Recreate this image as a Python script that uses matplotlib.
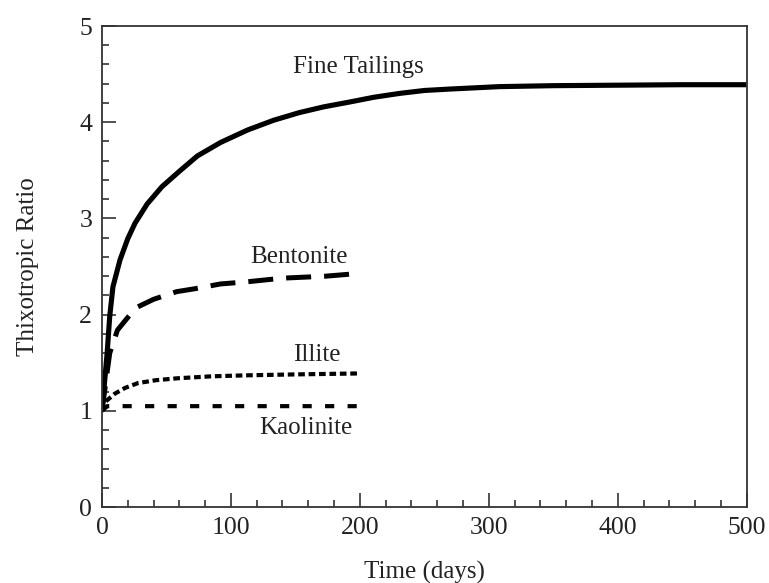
import matplotlib.pyplot as plt
from matplotlib.ticker import MultipleLocator

# ----- data -----
fine_x = [0, 2, 4, 6, 8.5, 14, 20, 25.6, 35, 46.5, 60, 74, 92, 113, 133, 153, 172, 192, 211, 231, 250, 270, 308, 350, 400, 450, 500]
fine_y = [1.0, 1.3, 1.6, 1.98, 2.29, 2.57, 2.79, 2.95, 3.15, 3.33, 3.49, 3.65, 3.79, 3.92, 4.02, 4.10, 4.16, 4.21, 4.26, 4.30, 4.33, 4.345, 4.37, 4.38, 4.385, 4.39, 4.39]

bent_x = [0, 3, 6, 12, 26, 40, 58, 72, 92, 111, 140, 173, 200]
bent_y = [1.0, 1.3, 1.6, 1.84, 2.07, 2.16, 2.24, 2.27, 2.32, 2.34, 2.38, 2.40, 2.43]

illite_x = [0, 3, 10, 18, 28, 42, 59, 85, 111, 150, 200]
illite_y = [1.0, 1.1, 1.18, 1.24, 1.29, 1.32, 1.34, 1.36, 1.37, 1.38, 1.39]

kaol_x = [0, 4, 200]
kaol_y = [1.0, 1.05, 1.05]

labels = ["Fine Tailings", "Bentonite", "Illite", "Kaolinite"]
label_pos = [(199, 4.57), (153, 2.60), (167, 1.58), (158, 0.82)]

plt.rcParams['font.family'] = ['Liberation Serif', 'DejaVu Serif']

fig = plt.figure(figsize=(7.69, 5.83), dpi=100)
ax = fig.add_axes([0.1326, 0.130, 0.8384, 0.8254])

ax.plot(fine_x, fine_y, color='black', lw=3.7, solid_capstyle='butt', solid_joinstyle='round')
ax.plot(bent_x, bent_y, color='black', lw=3.6, dashes=(5, 2.6), dash_capstyle='butt')
ax.plot(illite_x, illite_y, color='black', lw=3.0, dashes=(1.6, 0.9), dash_capstyle='butt')
ax.plot(kaol_x, kaol_y, color='black', lw=3.0, dashes=(2.2, 3.2), dash_capstyle='butt')

for text, (tx, ty) in zip(labels, label_pos):
    ax.text(tx, ty, text, ha='center', va='center', fontsize=18, color='#222222')

ax.set_xlim(0, 500)
ax.set_ylim(0, 5)
ax.xaxis.set_major_locator(MultipleLocator(100))
ax.xaxis.set_minor_locator(MultipleLocator(20))
ax.yaxis.set_major_locator(MultipleLocator(1))
ax.yaxis.set_minor_locator(MultipleLocator(0.2))
ax.tick_params(which='both', direction='in', labelsize=18.5, width=1.2, color='#333333',
               labelcolor='#222222')
ax.tick_params(which='major', length=10, pad=7)
ax.tick_params(which='minor', length=5)
for s in ax.spines.values():
    s.set_linewidth(1.3)
    s.set_color('#333333')

ax.set_xlabel('Time (days)', fontsize=18, labelpad=16, color='#222222')
ax.set_ylabel('Thixotropic Ratio', fontsize=18, labelpad=29, color='#222222')

fig.savefig('out.png', dpi=100)
